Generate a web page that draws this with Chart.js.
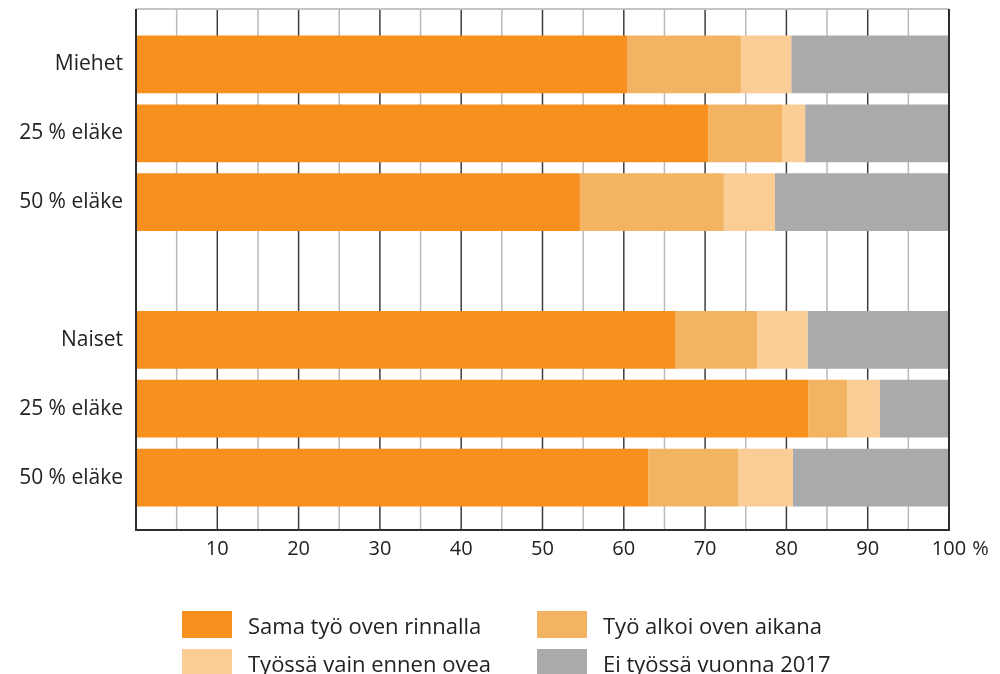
<!DOCTYPE html>
<html>
<head>
<meta charset="utf-8">
<script src="https://cdn.jsdelivr.net/npm/chart.js@4"></script>
<style>
  html, body { margin: 0; padding: 0; background: #fff; }
  #wrap { position: relative; width: 1000px; height: 674px; }
  #legend { position: absolute; left: 0; top: 0; width: 1000px; height: 674px; pointer-events: none;
            font-family: "Open Sans", sans-serif; font-size: 22px; color: #222; }
  .item { position: absolute; height: 27px; display: flex; align-items: center; white-space: nowrap; }
  .box { width: 50px; height: 27px; margin-right: 16px; }
</style>
</head>
<body>
<div id="wrap">
  <canvas id="grafico" width="1000" height="674"></canvas>
  <div id="legend"></div>
</div>
<script>
// ryhmät (tyhjä rivi erottaa miehet ja naiset)
const ryhmat = ['Miehet', '25 % eläke', '50 % eläke', '', 'Naiset', '25 % eläke', '50 % eläke'];

// osuudet, %
const samaTyo = [60.4, 70.4, 54.6, null, 66.3, 82.7, 63.0];
const tyoAlkoi = [14.0, 9.1, 17.7, null, 10.1, 4.8, 11.1];
const vainEnnen = [6.2, 2.8, 6.3, null, 6.2, 4.0, 6.7];
const eiTyossa = [19.4, 17.7, 21.4, null, 17.4, 8.5, 19.2];

const sarjat = ['Sama työ oven rinnalla', 'Työ alkoi oven aikana', 'Työssä vain ennen ovea', 'Ei työssä vuonna 2017'];
const varit = ['#F7901E', '#F2B462', '#FBCD96', '#AAAAAD'];

const xTicks = [10, 20, 30, 40, 50, 60, 70, 80, 90, 100];

const FONT = '"Open Sans", sans-serif';

// ruudukko ja kehys piirretään hieman piirtoalueen yli
const ruudukko = {
  id: 'ruudukko',
  beforeDatasetsDraw(chart) {
    const { ctx, chartArea } = chart;
    const x = chart.scales.x;
    const top = chartArea.top - 21;
    const bottom = chartArea.bottom + 18;
    ctx.save();
    ctx.lineWidth = 1.5;
    for (let v = 5; v < 100; v += 5) {
      const px = x.getPixelForValue(v);
      ctx.strokeStyle = v % 10 === 0 ? '#3c3c3c' : '#b9b9b9';
      ctx.beginPath();
      ctx.moveTo(px, top);
      ctx.lineTo(px, bottom);
      ctx.stroke();
    }
    ctx.restore();
  },
  afterDatasetsDraw(chart) {
    const { ctx, chartArea } = chart;
    const x = chart.scales.x;
    const top = chartArea.top - 21;
    const bottom = chartArea.bottom + 18;
    const l = x.getPixelForValue(0);
    const r = x.getPixelForValue(100);
    ctx.save();
    ctx.lineWidth = 2;
    ctx.strokeStyle = '#c4c4c4';
    ctx.beginPath();
    ctx.moveTo(l, top);
    ctx.lineTo(r, top);
    ctx.stroke();
    ctx.strokeStyle = '#2e2e2e';
    ctx.beginPath();
    ctx.moveTo(l, top);
    ctx.lineTo(l, bottom);
    ctx.lineTo(r, bottom);
    ctx.lineTo(r, top);
    ctx.stroke();
    ctx.restore();
  },
  afterDraw(chart) {
    // prosenttimerkki viimeisen tikin perään
    const { ctx, chartArea } = chart;
    const r = chart.scales.x.getPixelForValue(100);
    ctx.save();
    ctx.font = '20px ' + FONT;
    ctx.fillStyle = '#222';
    ctx.textBaseline = 'middle';
    ctx.textAlign = 'left';
    const w = ctx.measureText('100').width;
    ctx.fillText(' %', r + w / 2 + 1, chartArea.bottom + 37);
    ctx.restore();
  }
};

const ctx = document.getElementById('grafico').getContext('2d');

new Chart(ctx, {
  type: 'bar',
  data: {
    labels: ryhmat,
    datasets: [samaTyo, tyoAlkoi, vainEnnen, eiTyossa].map((d, i) => ({
      label: sarjat[i],
      data: d,
      backgroundColor: varit[i],
      borderWidth: 0,
      barPercentage: 0.838,
      categoryPercentage: 1
    }))
  },
  options: {
    indexAxis: 'y',
    responsive: false,
    animation: false,
    layout: { padding: { top: 30, right: 51, left: 0, bottom: 102 } },
    plugins: {
      legend: { display: false },
      tooltip: { enabled: false }
    },
    scales: {
      x: {
        stacked: true,
        min: 0,
        max: 100,
        afterBuildTicks: s => { s.ticks = xTicks.map(v => ({ value: v })); },
        afterFit: s => { s.height = 60; },
        grid: { display: false, drawTicks: false },
        border: { display: false },
        ticks: {
          padding: 25,
          maxRotation: 0,
          autoSkip: false,
          color: '#222',
          font: { family: FONT, size: 20 }
        }
      },
      y: {
        stacked: true,
        afterFit: s => { s.width = 136; },
        grid: { display: false, drawTicks: false },
        border: { display: false },
        ticks: {
          padding: 13,
          autoSkip: false,
          color: '#222',
          font: { family: FONT, size: 21 }
        }
      }
    }
  },
  plugins: [ruudukko]
});

// selite kahteen sarakkeeseen
const legend = document.getElementById('legend');
const paikat = [[182, 611], [537, 611], [182, 649], [537, 649]];
sarjat.forEach((nimi, i) => {
  const el = document.createElement('div');
  el.className = 'item';
  el.style.left = paikat[i][0] + 'px';
  el.style.top = paikat[i][1] + 'px';
  el.innerHTML = '<span class="box" style="background:' + varit[i] + '"></span><span>' + nimi + '</span>';
  legend.appendChild(el);
});
</script>
</body>
</html>
